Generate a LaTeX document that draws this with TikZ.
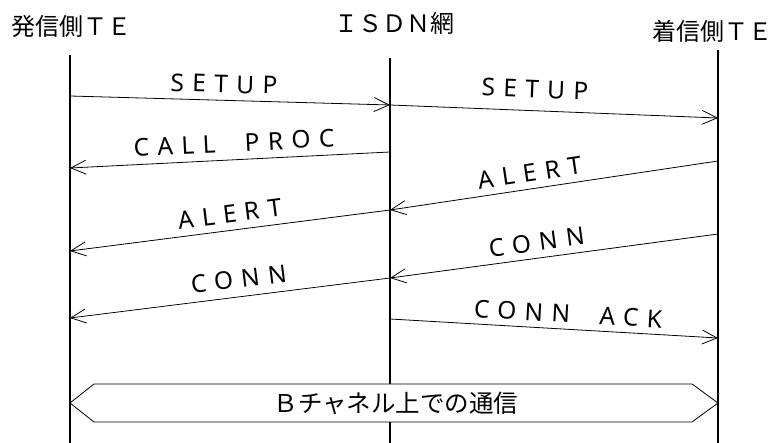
\documentclass[tikz,border=0pt]{standalone}
\usepackage{fontspec}
\setmainfont{Noto Sans CJK JP}
\newfontfamily\latsp{Noto Sans}[LetterSpace=34]
\usetikzlibrary{arrows.meta}
\begin{document}
\begin{tikzpicture}[x=1pt,y=-1pt,
  life/.style={line width=1.6pt},
  msg/.style={line width=0.8pt,-{Straight Barb[length=15pt,width=14pt,line width=0.8pt]}},
  lbl/.style={font=\latsp\fontsize{24.5}{25}\selectfont,inner sep=0pt},
  ttl/.style={font=\fontsize{24}{25}\selectfont,inner sep=0pt},
  chan/.style={line width=0.8pt,fill=white}]
\useasboundingbox (0,0) rectangle (777,443);
% titles
\node[ttl] (tA) at (72,26) {発信側ＴＥ};
\node[ttl] (tB) at (394,23) {ＩＳＤＮ網};
\node[ttl] (tC) at (712,31) {着信側ＴＥ};
% lifelines
\coordinate (Atop) at (70,55);  \coordinate (Abot) at (70,443);
\coordinate (Btop) at (390,58); \coordinate (Bbot) at (390,443);
\coordinate (Ctop) at (718,50); \coordinate (Cbot) at (718,443);
\draw[life] (Atop) -- (Abot);
\draw[life] (Btop) -- (Bbot);
\draw[life] (Ctop) -- (Cbot);
% message end points
\coordinate (a1) at (70,96);   \coordinate (b1) at (390,105);
\coordinate (c2) at (718,118);
\coordinate (b3) at (390,152); \coordinate (a3) at (70,168);
\coordinate (c4) at (718,161); \coordinate (b4) at (390,210);
\coordinate (a5) at (70,251);
\coordinate (c6) at (718,234); \coordinate (b6) at (390,278);
\coordinate (a7) at (70,318);
\coordinate (b8) at (390,319); \coordinate (c8) at (718,338);
% messages
\draw[msg] (a1) -- (b1);
\draw[msg] (b1) -- (c2);
\draw[msg] (b3) -- (a3);
\draw[msg] (c4) -- (b4);
\draw[msg] (b4) -- (a5);
\draw[msg] (c6) -- (b6);
\draw[msg] (b6) -- (a7);
\draw[msg] (b8) -- (c8);
% labels
\node[lbl,rotate=-1.6] (l1) at (224,84) {SETUP};
\node[lbl,rotate=-2.3] (l2) at (535,89) {SETUP};
\node[lbl,rotate=2.9] (l3) at (234,143) {CALL~~PROC};
\node[lbl,rotate=8.5] (l4) at (530,173) {ALERT};
\node[lbl,rotate=7.3] (l5) at (230,214) {ALERT};
\node[lbl,rotate=7.7] (l6) at (537,242) {CONN};
\node[lbl,rotate=7.1] (l7) at (239,279) {CONN};
\node[lbl,rotate=-3.3] (l8) at (568,314) {CONN~~ACK};
% B channel
\coordinate (hL) at (70,403); \coordinate (hR) at (718,403);
\draw[chan] (hL) -- (94,384) -- (692,384) -- (hR) -- (692,422) -- (94,422) -- cycle;
\node[font=\fontsize{24.5}{25}\selectfont,inner sep=0pt] (bc) at (396,403.5) {Ｂチャネル上での通信};
\end{tikzpicture}
\end{document}
